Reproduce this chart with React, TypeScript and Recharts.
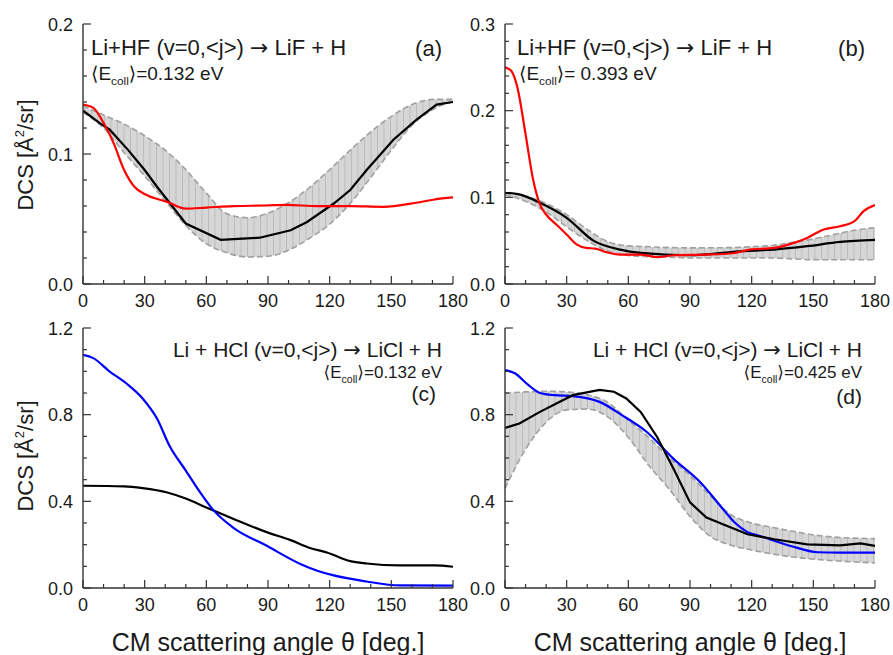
import { Area, ComposedChart, Line, XAxis, YAxis } from 'recharts'

const FONT = '"Liberation Sans", Arial, "DejaVu Sans", sans-serif'
const ARROW_FONT = '"DejaVu Sans", sans-serif'
const AXIS = '#333333'

const xTicks = [0, 10, 20, 30, 40, 50, 60, 70, 80, 90, 100, 110, 120, 130, 140, 150, 160, 170, 180]
const hfTicksA = [0, 0.02, 0.04, 0.06, 0.08, 0.1, 0.12, 0.14, 0.16, 0.18, 0.2]
const hfTicksB = [0, 0.02, 0.04, 0.06, 0.08, 0.1, 0.12, 0.14, 0.16, 0.18, 0.2, 0.22, 0.24, 0.26, 0.28, 0.3]
const hclTicks = [0, 0.1, 0.2, 0.3, 0.4, 0.5, 0.6, 0.7, 0.8, 0.9, 1.0, 1.1, 1.2]

// band grid (deg)
const bandAngles = [0, 10, 20, 30, 40, 50, 60, 70, 80, 90, 100, 110, 120, 130, 140, 150, 160, 170, 180]

// (a) Li+HF, 0.132 eV
const aBandLow = [0.132, 0.12, 0.101, 0.083, 0.064, 0.045, 0.031, 0.024, 0.0208, 0.0213, 0.026, 0.035, 0.046, 0.062, 0.082, 0.103, 0.122, 0.134, 0.1405]
const aBandHigh = [0.137, 0.13, 0.123, 0.114, 0.103, 0.088, 0.07, 0.054, 0.051, 0.0545, 0.0625, 0.074, 0.088, 0.103, 0.117, 0.129, 0.138, 0.142, 0.142]
const aBlackAngles = [0, 8, 13, 22, 30, 36, 50, 67, 86, 101, 109, 122, 130, 138, 151, 162, 172, 180]
const aBlack = [0.1334, 0.124, 0.1187, 0.103, 0.0877, 0.0748, 0.0465, 0.034, 0.0356, 0.0413, 0.0477, 0.0619, 0.0723, 0.0877, 0.111, 0.126, 0.138, 0.14]
const aRedAngles = [0, 5, 10, 15, 20, 25, 31, 41, 50, 60, 73, 89, 99, 114, 130, 146, 162, 171, 180]
const aRed = [0.138, 0.1355, 0.124, 0.108, 0.0877, 0.0748, 0.0684, 0.0632, 0.058, 0.0588, 0.0599, 0.0604, 0.0609, 0.0599, 0.0599, 0.0594, 0.0625, 0.065, 0.0666]

// (b) Li+HF, 0.393 eV
const bBandLow = [0.103, 0.0955, 0.083, 0.066, 0.05, 0.038, 0.033, 0.0315, 0.031, 0.03, 0.03, 0.03, 0.03, 0.03, 0.029, 0.028, 0.028, 0.028, 0.028]
const bBandHigh = [0.105, 0.1015, 0.093, 0.08, 0.063, 0.049, 0.044, 0.043, 0.042, 0.0417, 0.0418, 0.042, 0.043, 0.0445, 0.048, 0.052, 0.057, 0.062, 0.065]
const bBlackAngles = [0, 7, 17, 30, 43, 56, 66, 90, 114, 131, 147, 163, 180]
const bBlack = [0.1053, 0.1034, 0.0937, 0.0764, 0.0501, 0.0397, 0.0359, 0.0332, 0.0378, 0.0397, 0.0436, 0.0486, 0.0509]
const bRedAngles = [0, 3, 6, 10, 13.5, 17, 20, 25, 30, 35, 39.5, 44, 49, 56, 66, 74, 82, 98, 111, 119, 131, 139, 147, 155, 163, 170, 174.5, 180]
const bRed = [0.25, 0.246, 0.227, 0.173, 0.1226, 0.0918, 0.0802, 0.0686, 0.0571, 0.0455, 0.0416, 0.0409, 0.037, 0.0339, 0.0339, 0.0309, 0.0332, 0.0339, 0.0355, 0.0397, 0.0416, 0.0463, 0.0532, 0.0629, 0.0667, 0.0725, 0.0841, 0.091]

// (c) Li+HCl, 0.132 eV
const cBlueAngles = [0, 5, 13, 21, 29, 36, 42, 50, 57, 63, 73, 89, 106, 114, 122, 138, 154, 180]
const cBlue = [1.076, 1.061, 0.999, 0.945, 0.875, 0.782, 0.658, 0.542, 0.441, 0.364, 0.279, 0.197, 0.11, 0.08, 0.058, 0.03, 0.012, 0.011]
const cBlackAngles = [0, 20, 29, 41, 50, 60, 73, 89, 101, 110, 119, 130, 138, 154, 171, 180]
const cBlack = [0.472, 0.469, 0.461, 0.441, 0.413, 0.372, 0.32, 0.259, 0.221, 0.186, 0.163, 0.124, 0.113, 0.104, 0.104, 0.098]

// (d) Li+HCl, 0.425 eV
const dBandLow = [0.46, 0.64, 0.765, 0.822, 0.826, 0.79, 0.695, 0.565, 0.455, 0.33, 0.238, 0.197, 0.175, 0.157, 0.143, 0.133, 0.126, 0.12, 0.116]
const dBandHigh = [0.9, 0.905, 0.908, 0.905, 0.892, 0.857, 0.774, 0.694, 0.6, 0.52, 0.425, 0.338, 0.3, 0.28, 0.262, 0.245, 0.235, 0.23, 0.228]
const dBlueAngles = [0, 5, 11, 17, 24, 33, 46, 57, 69, 82, 95, 106, 112, 118, 124, 139, 152, 163, 180]
const dBlue = [1.006, 0.99, 0.94, 0.9, 0.89, 0.886, 0.859, 0.797, 0.72, 0.596, 0.488, 0.365, 0.3, 0.258, 0.24, 0.194, 0.165, 0.163, 0.163]
const dBlackAngles = [0, 7, 17, 25, 33, 46, 53, 59, 66, 74, 82, 90, 98, 106, 118, 131, 147, 163, 173, 180]
const dBlack = [0.739, 0.759, 0.813, 0.852, 0.89, 0.914, 0.906, 0.875, 0.813, 0.697, 0.55, 0.395, 0.325, 0.294, 0.248, 0.225, 0.201, 0.197, 0.206, 0.194]

const toRows = (xs: number[], ys: number[]) => xs.map((x, i) => ({ x, y: ys[i] }))
const toBand = (lo: number[], hi: number[]) => bandAngles.map((x, i) => ({ x, band: [lo[i], hi[i]] }))

const isMajor = (v: number, step: number) => Math.abs(v / step - Math.round(v / step)) < 1e-6

const MAJOR = 8
const MINOR = 4

type LineSpec = { data: { x: number; y: number }[]; color: string; curve: 'linear' | 'monotone' }

type PanelProps = {
  id: string
  left: number
  top: number
  width: number
  height: number
  plotTop: number
  plotRight: number
  yAxisWidth: number
  xAxisHeight: number
  yMax: number
  yTicks: number[]
  yStep: number
  band?: { x: number; band: number[] }[]
  lines: LineSpec[]
}

function Panel(p: PanelProps) {
  const bottomTick = (t: any) => {
    const v = t.payload.value
    const major = isMajor(v, 30)
    return (
      <g>
        <line x1={t.x} x2={t.x} y1={t.y} y2={t.y - (major ? MAJOR : MINOR)} stroke={AXIS} strokeWidth={1.2} />
        {major && (
          <text x={t.x} y={t.y + 23} textAnchor="middle" fontSize={18} fill="#1a1a1a" fontFamily={FONT}>
            {v}
          </text>
        )}
      </g>
    )
  }
  const topTick = (t: any) => {
    const major = isMajor(t.payload.value, 30)
    return <line x1={t.x} x2={t.x} y1={t.y} y2={t.y + (major ? MAJOR : MINOR)} stroke={AXIS} strokeWidth={1.2} />
  }
  const leftTick = (t: any) => {
    const v = t.payload.value
    const major = isMajor(v, p.yStep)
    return (
      <g>
        <line x1={t.x} x2={t.x + (major ? MAJOR : MINOR)} y1={t.y} y2={t.y} stroke={AXIS} strokeWidth={1.2} />
        {major && (
          <text x={t.x - 10} y={t.y + 6.5} textAnchor="end" fontSize={18} fill="#1a1a1a" fontFamily={FONT}>
            {v.toFixed(1)}
          </text>
        )}
      </g>
    )
  }
  const rightTick = (t: any) => {
    const major = isMajor(t.payload.value, p.yStep)
    return <line x1={t.x} x2={t.x - (major ? MAJOR : MINOR)} y1={t.y} y2={t.y} stroke={AXIS} strokeWidth={1.2} />
  }
  const common = { type: 'number' as const, allowDataOverflow: true, tickSize: 0, tickMargin: 0, interval: 0 as const, axisLine: { stroke: AXIS, strokeWidth: 1.4 } }

  return (
    <div style={{ position: 'absolute', left: p.left, top: p.top }}>
      <ComposedChart width={p.width} height={p.height} margin={{ top: p.plotTop, right: p.plotRight, bottom: 0, left: 0 }}>
        <defs>
          <pattern id={p.id} patternUnits="userSpaceOnUse" width={6.5} height={10}>
            <rect width={6.5} height={10} fill="#d6d6d6" />
            <line x1={0.5} x2={0.5} y1={0} y2={10} stroke="#b4b4b4" strokeWidth={0.8} />
          </pattern>
        </defs>
        <XAxis xAxisId="b" dataKey="x" domain={[0, 180]} ticks={xTicks} height={p.xAxisHeight} tick={bottomTick} {...common} />
        <XAxis xAxisId="t" orientation="top" dataKey="x" domain={[0, 180]} ticks={xTicks} height={0} tick={topTick} {...common} />
        <YAxis yAxisId="l" domain={[0, p.yMax]} ticks={p.yTicks} width={p.yAxisWidth} tick={leftTick} {...common} />
        <YAxis yAxisId="r" orientation="right" domain={[0, p.yMax]} ticks={p.yTicks} width={0} tick={rightTick} {...common} />
        {p.band && (
          <Area
            xAxisId="b"
            yAxisId="l"
            data={p.band}
            dataKey="band"
            type="monotone"
            fill={`url(#${p.id})`}
            fillOpacity={1}
            stroke="#a0a0a0"
            strokeWidth={1.6}
            strokeDasharray="6 3"
            dot={false}
            activeDot={false}
            isAnimationActive={false}
          />
        )}
        {p.lines.map((l, i) => (
          <Line
            key={i}
            xAxisId="b"
            yAxisId="l"
            data={l.data}
            dataKey="y"
            type={l.curve}
            stroke={l.color}
            strokeWidth={2.2}
            dot={false}
            activeDot={false}
            isAnimationActive={false}
          />
        ))}
      </ComposedChart>
    </div>
  )
}

function Ecoll({ x, y, size, anchor, value }: { x: number; y: number; size: number; anchor: 'start' | 'end'; value: string }) {
  return (
    <text x={x} y={y} fontSize={size} textAnchor={anchor} fill="#1a1a1a" fontFamily={FONT}>
      ⟨E
      <tspan fontSize={size * 0.62} dy={5}>
        coll
      </tspan>
      <tspan dy={-5}>⟩{value}</tspan>
    </text>
  )
}

function Reaction({ x, y, size, anchor, lhs, rhs }: { x: number; y: number; size: number; anchor: 'start' | 'end'; lhs: string; rhs: string }) {
  return (
    <text x={x} y={y} fontSize={size} textAnchor={anchor} fill="#1a1a1a" fontFamily={FONT}>
      {lhs}
      <tspan fontFamily={ARROW_FONT}>→</tspan>
      {rhs}
    </text>
  )
}

function YTitle({ x, y }: { x: number; y: number }) {
  return (
    <text transform={`translate(${x},${y}) rotate(-90)`} textAnchor="middle" fontSize={22} fill="#1a1a1a" fontFamily={FONT}>
      DCS [Å
      <tspan fontSize={13} dy={-9}>
        2
      </tspan>
      <tspan dy={9}>/sr]</tspan>
    </text>
  )
}

export default function App() {
  const txt = { fill: '#1a1a1a', fontFamily: FONT }
  return (
    <div style={{ position: 'relative', width: 893, height: 655, background: '#fff', overflow: 'hidden' }}>
      <style>{'body{margin:0}'}</style>
      <Panel
        id="hatchA" left={0} top={0} width={470} height={320} plotTop={24} plotRight={17}
        yAxisWidth={83} xAxisHeight={36} yMax={0.2} yTicks={hfTicksA} yStep={0.1}
        band={toBand(aBandLow, aBandHigh)}
        lines={[
          { data: toRows(aBlackAngles, aBlack), color: '#000000', curve: 'linear' },
          { data: toRows(aRedAngles, aRed), color: '#ff0000', curve: 'monotone' },
        ]}
      />
      <Panel
        id="hatchB" left={470} top={0} width={423} height={320} plotTop={24} plotRight={18}
        yAxisWidth={35} xAxisHeight={36} yMax={0.3} yTicks={hfTicksB} yStep={0.1}
        band={toBand(bBandLow, bBandHigh)}
        lines={[
          { data: toRows(bBlackAngles, bBlack), color: '#000000', curve: 'monotone' },
          { data: toRows(bRedAngles, bRed), color: '#ff0000', curve: 'monotone' },
        ]}
      />
      <Panel
        id="hatchC" left={0} top={300} width={470} height={355} plotTop={28} plotRight={17}
        yAxisWidth={83} xAxisHeight={67} yMax={1.2} yTicks={hclTicks} yStep={0.4}
        lines={[
          { data: toRows(cBlackAngles, cBlack), color: '#000000', curve: 'monotone' },
          { data: toRows(cBlueAngles, cBlue), color: '#0000ff', curve: 'monotone' },
        ]}
      />
      <Panel
        id="hatchD" left={470} top={300} width={423} height={355} plotTop={28} plotRight={18}
        yAxisWidth={35} xAxisHeight={67} yMax={1.2} yTicks={hclTicks} yStep={0.4}
        band={toBand(dBandLow, dBandHigh)}
        lines={[
          { data: toRows(dBlueAngles, dBlue), color: '#0000ff', curve: 'monotone' },
          { data: toRows(dBlackAngles, dBlack), color: '#000000', curve: 'linear' },
        ]}
      />
      <svg width={893} height={655} style={{ position: 'absolute', left: 0, top: 0, pointerEvents: 'none' }}>
        <Reaction x={91} y={55} size={22} anchor="start" lhs="Li+HF (v=0,<j>) " rhs=" LiF + H" />
        <text x={442} y={56} fontSize={22} textAnchor="end" {...txt}>(a)</text>
        <Ecoll x={91} y={80} size={19} anchor="start" value="=0.132 eV" />

        <Reaction x={517} y={55} size={22} anchor="start" lhs="Li+HF (v=0,<j>) " rhs=" LiF + H" />
        <text x={865} y={56} fontSize={22} textAnchor="end" {...txt}>(b)</text>
        <Ecoll x={519} y={80} size={19} anchor="start" value="= 0.393 eV" />

        <Reaction x={442} y={357} size={21} anchor="end" lhs="Li + HCl (v=0,<j>) " rhs="  LiCl + H" />
        <Ecoll x={442} y={378} size={17} anchor="end" value="=0.132 eV" />
        <text x={436} y={401} fontSize={21} textAnchor="end" {...txt}>(c)</text>

        <Reaction x={862} y={357} size={21} anchor="end" lhs="Li + HCl (v=0,<j>) " rhs="  LiCl + H" />
        <Ecoll x={862} y={378} size={17} anchor="end" value="=0.425 eV" />
        <text x={862} y={404} fontSize={21} textAnchor="end" {...txt}>(d)</text>

        <YTitle x={33} y={155} />
        <YTitle x={33} y={456} />
        <text x={268} y={651} fontSize={25} textAnchor="middle" {...txt}>CM scattering angle θ [deg.]</text>
        <text x={690} y={651} fontSize={25} textAnchor="middle" {...txt}>CM scattering angle θ [deg.]</text>
      </svg>
    </div>
  )
}
